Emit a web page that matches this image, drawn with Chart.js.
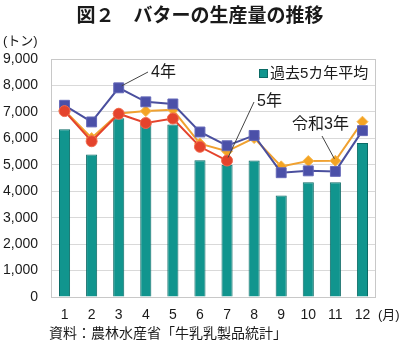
<!DOCTYPE html>
<html>
<head>
<meta charset="utf-8">
<script src="https://cdn.jsdelivr.net/npm/chart.js@4/dist/chart.umd.min.js"></script>
<style>
html,body{margin:0;padding:0;background:#fff;}
#wrap{width:400px;height:351px;position:relative;}
</style>
</head>
<body>
<div id="wrap"><canvas id="c" width="400" height="351"></canvas></div>
<script>
const months = ['1','2','3','4','5','6','7','8','9','10','11','12'];
const avg5 = [6340, 5390, 6760, 6660, 6520, 5170, 5000, 5160, 3840, 4340, 4340, 5820];
const r4 = [7250, 6620, 7910, 7380, 7300, 6240, 5720, 6110, 4700, 4770, 4750, 6290];
const r5 = [7030, 5890, 6930, 6580, 6750, 5680, 5160, null, null, null, null, null];
const r3 = [7050, 6010, 6940, 7030, 7080, 5800, 5510, 6010, 4940, 5140, 5150, 6630];
const yTicks = [0, 1000, 2000, 3000, 4000, 5000, 6000, 7000, 8000, 9000];

const JP = '"Liberation Sans", Arial, "Noto Sans CJK JP", sans-serif';

const textPlugin = {
  id: 'texts',
  afterDraw(chart) {
    const ctx = chart.ctx;
    const a = chart.chartArea;
    const xs = chart.scales.x, ys = chart.scales.y;
    ctx.save();
    // plot border
    ctx.strokeStyle = '#c8c8c8';
    ctx.lineWidth = 1;
    ctx.strokeRect(Math.round(a.left) + 0.5, Math.round(a.top) + 0.5, Math.round(a.right - a.left) - 1, Math.round(a.bottom - a.top));
    ctx.fillStyle = '#1a1a1a';
    // title
    ctx.font = 'bold 19px ' + JP;
    ctx.textAlign = 'center';
    ctx.textBaseline = 'middle';
    ctx.fillText('図２　バターの生産量の推移', 200, 17);
    // unit
    ctx.font = '13px ' + JP;
    ctx.textAlign = 'left';
    ctx.fillText('(トン)', 3, 41);
    ctx.fillText('(月)', 378, 315);
    // source
    ctx.font = '14px ' + JP;
    ctx.fillText('資料：農林水産省「牛乳乳製品統計」', 49, 334);
    // legend
    ctx.fillStyle = '#11958e';
    ctx.fillRect(259, 69, 9, 9);
    ctx.strokeStyle = '#0b6a65';
    ctx.strokeRect(259.5, 69.5, 8, 8);
    ctx.fillStyle = '#1a1a1a';
    ctx.font = '15px ' + JP;
    ctx.fillText('過去5カ年平均', 270, 74);
    // annotations
    ctx.font = '16px ' + JP;
    ctx.fillText('4年', 151, 73);
    ctx.fillText('5年', 257, 102);
    ctx.fillText('令和3年', 292, 125);
    ctx.strokeStyle = '#444';
    ctx.lineWidth = 1;
    const p4x = xs.getPixelForValue(2), p4y = ys.getPixelForValue(r4[2]);
    const p5x = xs.getPixelForValue(6), p5y = ys.getPixelForValue(r5[6]);
    const p3x = xs.getPixelForValue(10), p3y = ys.getPixelForValue(r3[10]);
    ctx.beginPath();
    ctx.moveTo(148, 72); ctx.lineTo(p4x + 3, p4y - 2);
    ctx.moveTo(254, 102); ctx.lineTo(p5x + 1, p5y - 3);
    ctx.moveTo(322, 136); ctx.lineTo(p3x - 1, p3y - 2);
    ctx.stroke();
    ctx.restore();
  }
};

new Chart(document.getElementById('c'), {
  type: 'bar',
  data: {
    labels: months,
    datasets: [
      {
        type: 'line', label: '5年', data: r5, order: 1,
        borderColor: '#e4432c', backgroundColor: '#e4432c',
        borderWidth: 2, pointStyle: 'circle', pointRadius: 5.5,
        pointBorderColor: '#f06a4e', pointBorderWidth: 1, tension: 0, spanGaps: false
      },
      {
        type: 'line', label: '4年', data: r4, order: 2,
        borderColor: '#4a4f9e', backgroundColor: '#4b50a8',
        borderWidth: 2, pointStyle: 'rect', pointRadius: 7,
        pointBorderColor: '#6468b8', pointBorderWidth: 1, tension: 0
      },
      {
        type: 'line', label: '令和3年', data: r3, order: 3,
        borderColor: '#f0a130', backgroundColor: '#f4a424',
        borderWidth: 2, pointStyle: 'rectRot', pointRadius: 5.5,
        pointBorderColor: '#f7b850', pointBorderWidth: 1, tension: 0
      },
      {
        type: 'bar', label: '過去5カ年平均', data: avg5, order: 4,
        backgroundColor: '#11958e', borderColor: '#0b6a65', borderWidth: 1,
        categoryPercentage: 1, barPercentage: 0.41
      }
    ]
  },
  options: {
    responsive: false,
    animation: false,
    layout: { padding: { left: 0, right: 24, top: 59, bottom: 0 } },
    plugins: { legend: { display: false }, tooltip: { enabled: false }, title: { display: false } },
    scales: {
      x: {
        grid: { display: false, drawTicks: false },
        border: { display: false },
        ticks: { color: '#1a1a1a', font: { size: 14, family: JP }, padding: 10, maxRotation: 0, autoSkip: false },
        afterFit(s) { s.height = 351 - 297; }
      },
      y: {
        min: 0, max: 9000,
        afterBuildTicks(s) { s.ticks = yTicks.map(v => ({ value: v })); },
        grid: { color: '#d9d9d9', drawTicks: false },
        border: { display: false },
        ticks: { color: '#1a1a1a', font: { size: 14, family: JP }, padding: 13,
          callback: v => v.toLocaleString('en-US') },
        afterFit(s) { s.width = 51; }
      }
    }
  },
  plugins: [textPlugin]
});
</script>
</body>
</html>
